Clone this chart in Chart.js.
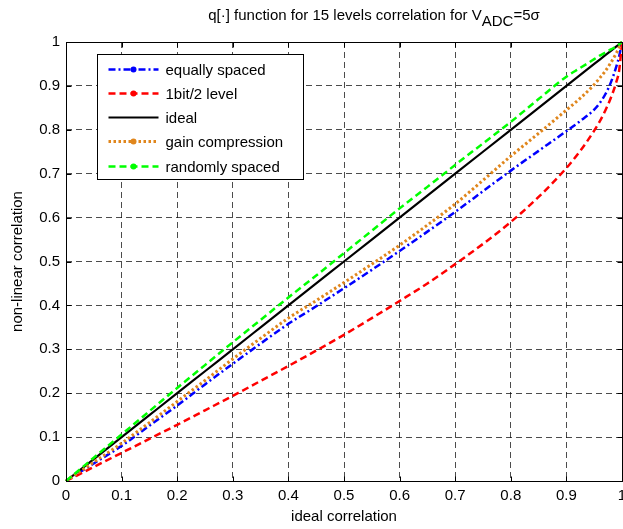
<!DOCTYPE html>
<html>
<head>
<meta charset="utf-8">
<script src="https://cdn.jsdelivr.net/npm/chart.js@4.4.0/dist/chart.umd.min.js"></script>
<style>
html, body { margin: 0; padding: 0; background: #fff; overflow: hidden; }
canvas { display: block; }
</style>
</head>
<body>
<canvas id="qChart" width="640" height="529"></canvas>
<script>
// ideal correlation (x) samples
const corr = [0, 0.05, 0.1, 0.15, 0.2, 0.25, 0.3, 0.35, 0.4, 0.45, 0.5, 0.55, 0.6, 0.65, 0.7, 0.75, 0.8, 0.85, 0.9, 0.925, 0.95, 0.96, 0.97, 0.98, 0.99, 0.995, 1];

const equallySpaced = [0, 0.040, 0.080, 0.126, 0.172, 0.220, 0.267, 0.313, 0.358, 0.398, 0.439, 0.481, 0.524, 0.568, 0.613, 0.660, 0.707, 0.752, 0.797, 0.820, 0.846, 0.861, 0.881, 0.908, 0.945, 0.968, 1];
const oneBit = [0, 0.032, 0.064, 0.096, 0.128, 0.161, 0.194, 0.228, 0.262, 0.297, 0.333, 0.371, 0.410, 0.450, 0.494, 0.540, 0.590, 0.647, 0.713, 0.752, 0.798, 0.819, 0.844, 0.873, 0.910, 0.936, 1];
const ideal = [0, 0.05, 0.1, 0.15, 0.2, 0.25, 0.3, 0.35, 0.4, 0.45, 0.5, 0.55, 0.6, 0.65, 0.7, 0.75, 0.8, 0.85, 0.9, 0.925, 0.95, 0.96, 0.97, 0.98, 0.99, 0.995, 1];
const gainCompression = [0, 0.043, 0.086, 0.133, 0.181, 0.229, 0.278, 0.325, 0.371, 0.411, 0.452, 0.494, 0.537, 0.583, 0.631, 0.685, 0.740, 0.792, 0.845, 0.872, 0.903, 0.918, 0.934, 0.953, 0.975, 0.988, 1];
const randomlySpaced = [0, 0.053, 0.106, 0.159, 0.212, 0.264, 0.316, 0.367, 0.418, 0.468, 0.519, 0.570, 0.621, 0.670, 0.720, 0.769, 0.818, 0.870, 0.921, 0.941, 0.961, 0.969, 0.976, 0.983, 0.990, 0.995, 1];

const seriesNames = ["equally spaced", "1bit/2 level", "ideal", "gain compression", "randomly spaced"];
const xTickLabels = ["0", "0.1", "0.2", "0.3", "0.4", "0.5", "0.6", "0.7", "0.8", "0.9", "1"];
const yTickLabels = ["0", "0.1", "0.2", "0.3", "0.4", "0.5", "0.6", "0.7", "0.8", "0.9", "1"];

const titleMain = "q[·] function for 15 levels correlation for V";
const titleSub = "ADC";
const titleEnd = "=5σ";
const xTitle = "ideal correlation";
const yTitle = "non-linear correlation";

const FONT = '"Liberation Sans", Arial, sans-serif';

function pts(ys) {
  return corr.map((x, i) => ({ x: x, y: ys[i] }));
}

// title with subscript
const subTitle = {
  id: "subTitle",
  afterDraw(chart) {
    const ctx = chart.ctx;
    ctx.save();
    ctx.font = "15px " + FONT;
    ctx.fillStyle = "#000";
    ctx.textBaseline = "alphabetic";
    const w1 = ctx.measureText(titleMain).width;
    const w2 = ctx.measureText(titleSub).width;
    const w3 = ctx.measureText(titleEnd).width;
    let x = 374 - (w1 + w2 + w3) / 2;
    ctx.fillText(titleMain, x, 20);
    x += w1;
    ctx.fillText(titleSub, x, 26);
    x += w2;
    ctx.fillText(titleEnd, x, 20);
    ctx.restore();
  }
};

// matlab style box + inner ticks + legend
const axisFrame = {
  id: "axisFrame",
  afterDatasetsDraw(chart) {
    const { ctx, chartArea: a, scales: { x, y } } = chart;
    const L = Math.round(a.left) + 0.5, R = Math.round(a.right) + 0.5;
    const T = Math.round(a.top) + 0.5, B = Math.round(a.bottom) + 0.5;
    ctx.save();
    ctx.strokeStyle = "#000";
    ctx.lineWidth = 1;
    ctx.setLineDash([]);
    ctx.beginPath();
    x.ticks.forEach(t => {
      const px = Math.round(x.getPixelForValue(t.value)) + 0.5;
      ctx.moveTo(px, B); ctx.lineTo(px, B - 5);
      ctx.moveTo(px, T); ctx.lineTo(px, T + 5);
    });
    y.ticks.forEach(t => {
      const py = Math.round(y.getPixelForValue(t.value)) + 0.5;
      ctx.moveTo(L, py); ctx.lineTo(L + 5, py);
      ctx.moveTo(R, py); ctx.lineTo(R - 5, py);
    });
    ctx.stroke();
    ctx.strokeRect(L, T, R - L, B - T);

    // legend
    const bx = L + 31, by = T + 12, bw = 206, bh = 125;
    ctx.fillStyle = "#fff";
    ctx.fillRect(bx, by, bw, bh);
    ctx.strokeRect(bx, by, bw, bh);
    ctx.font = "15px " + FONT;
    ctx.textBaseline = "middle";
    chart.data.datasets.forEach((ds, i) => {
      const ly = Math.round(by + 14 + i * 24.3) + 0.5;
      ctx.strokeStyle = ds.borderColor;
      ctx.lineWidth = ds.borderWidth;
      ctx.setLineDash(ds.borderDash || []);
      ctx.beginPath();
      ctx.moveTo(bx + 11, ly);
      ctx.lineTo(bx + 61, ly);
      ctx.stroke();
      ctx.setLineDash([]);
      if (ds.legendDot) {
        ctx.fillStyle = ds.borderColor;
        ctx.beginPath();
        ctx.arc(bx + 36, ly, 3, 0, Math.PI * 2);
        ctx.fill();
      }
      ctx.fillStyle = "#000";
      ctx.fillText(seriesNames[i], bx + 68, ly + 1);
    });
    ctx.restore();
  }
};

new Chart(document.getElementById("qChart"), {
  type: "line",
  data: {
    datasets: [
      {
        label: seriesNames[0],
        data: pts(equallySpaced),
        borderColor: "#0000ff",
        borderWidth: 2.5,
        borderDash: [7, 3, 2, 3],
        legendDot: true,
        order: 4
      },
      {
        label: seriesNames[1],
        data: pts(oneBit),
        borderColor: "#ff0000",
        borderWidth: 2.5,
        borderDash: [7, 4],
        legendDot: true,
        order: 3
      },
      {
        label: seriesNames[2],
        data: pts(ideal),
        borderColor: "#000000",
        borderWidth: 2.2,
        legendDot: false,
        order: 2
      },
      {
        label: seriesNames[3],
        data: pts(gainCompression),
        borderColor: "#e0861c",
        borderWidth: 3,
        borderDash: [2.5, 2.5],
        legendDot: true,
        order: 1
      },
      {
        label: seriesNames[4],
        data: pts(randomlySpaced),
        borderColor: "#00ff00",
        borderWidth: 2.5,
        borderDash: [7, 4],
        legendDot: true,
        order: 0
      }
    ]
  },
  options: {
    responsive: false,
    devicePixelRatio: 1,
    animation: false,
    clip: 4,
    layout: { padding: { top: 42, right: 18, left: 0, bottom: 0 } },
    elements: {
      point: { radius: 0, hoverRadius: 0 },
      line: { tension: 0, cubicInterpolationMode: "monotone", fill: false }
    },
    plugins: {
      legend: { display: false },
      title: { display: false },
      tooltip: { enabled: false }
    },
    scales: {
      x: {
        type: "linear",
        min: 0,
        max: 1,
        afterFit: s => { s.height = 48; },
        afterBuildTicks: s => { s.ticks = xTickLabels.map(v => ({ value: parseFloat(v) })); },
        ticks: {
          autoSkip: false,
          maxRotation: 0,
          padding: 6,
          color: "#000",
          font: { family: FONT, size: 15 },
          callback: (v, i) => xTickLabels[i]
        },
        grid: { color: "rgba(0,0,0,0.7)", lineWidth: 1, drawTicks: false },
        border: { display: false, dash: [6, 4] },
        title: {
          display: true,
          text: xTitle,
          color: "#000",
          font: { family: FONT, size: 15 },
          padding: { top: 0, bottom: 3 }
        }
      },
      y: {
        type: "linear",
        min: 0,
        max: 1,
        afterFit: s => { s.width = 66; },
        afterBuildTicks: s => { s.ticks = yTickLabels.map(v => ({ value: parseFloat(v) })); },
        ticks: {
          autoSkip: false,
          padding: 6,
          color: "#000",
          font: { family: FONT, size: 15 },
          callback: (v, i) => yTickLabels[i]
        },
        grid: { color: "rgba(0,0,0,0.7)", lineWidth: 1, drawTicks: false },
        border: { display: false, dash: [6, 4] },
        title: {
          display: true,
          text: yTitle,
          color: "#000",
          font: { family: FONT, size: 15 },
          padding: { top: 9, bottom: 0 }
        }
      }
    }
  },
  plugins: [subTitle, axisFrame]
});
</script>
</body>
</html>
